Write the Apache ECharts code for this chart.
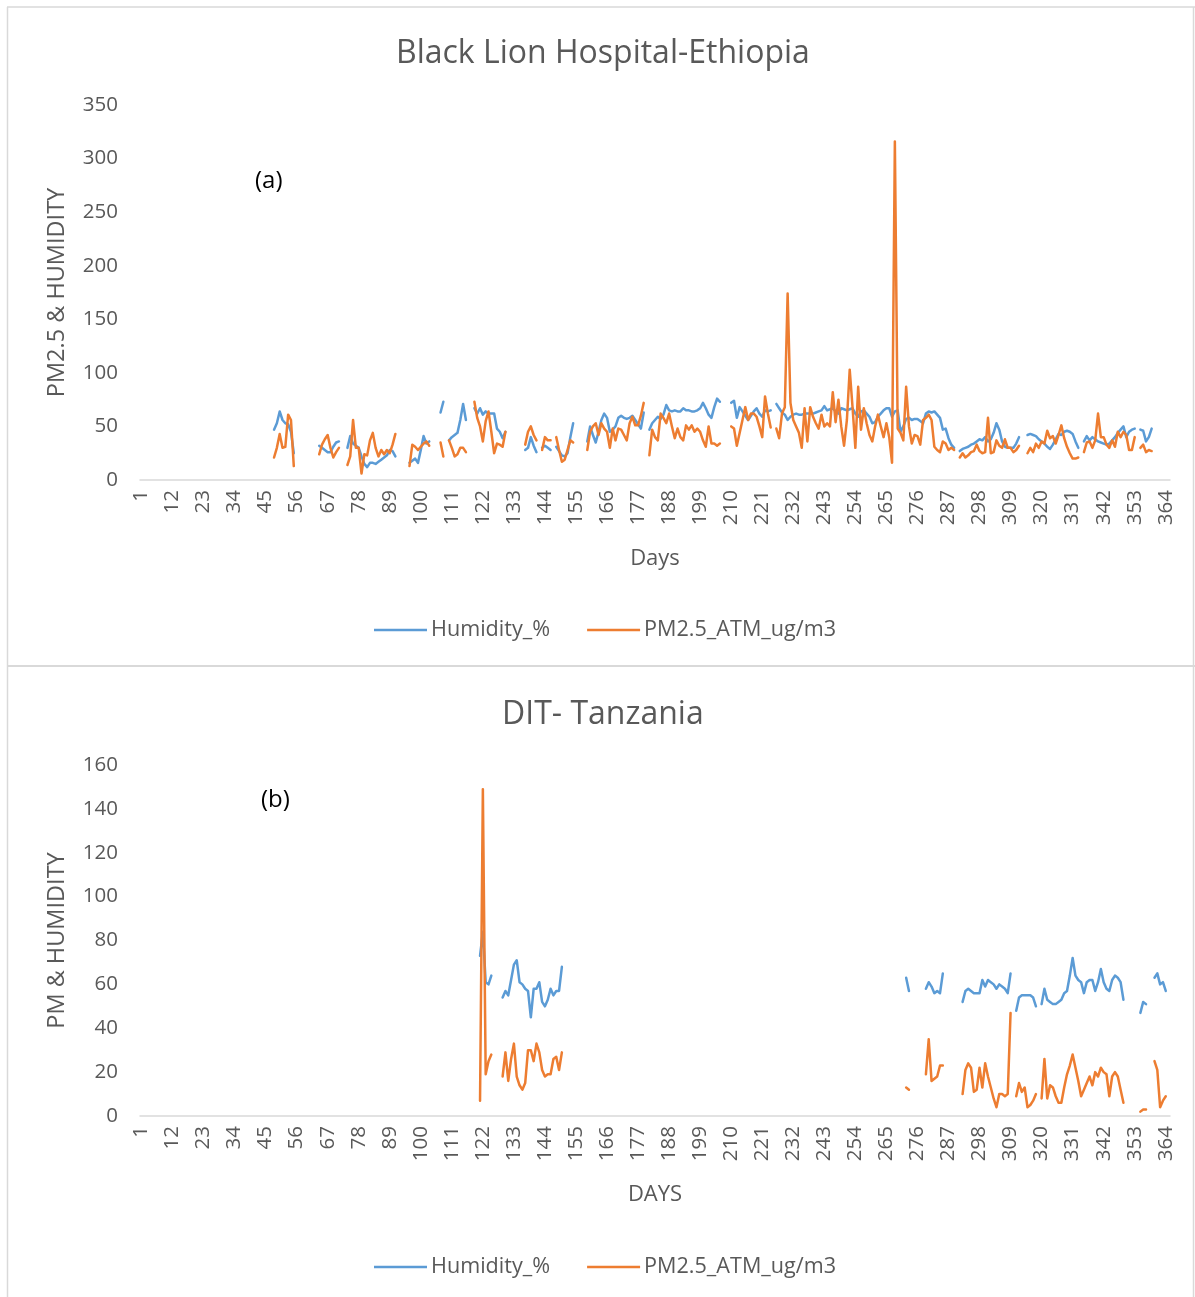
<!DOCTYPE html>
<html>
<head>
<meta charset="utf-8">
<script src="https://cdn.jsdelivr.net/npm/echarts@6/dist/echarts.min.js"></script>
<style>
html,body{margin:0;padding:0;background:#fff;}
#chart{width:1195px;height:1297px;}
</style>
</head>
<body>
<div id="chart"></div>
<script>
// Day categories 1..365 (x-axis tick labels shown every 11th day)
const dayCount = 365;
const days = Array.from({length: dayCount}, (_, i) => String(i + 1));

const seriesNames = ['Humidity_%', 'PM2.5_ATM_ug/m3'];
const titleA = 'Black Lion Hospital-Ethiopia';
const titleB = 'DIT- Tanzania';

// Each entry: [first day, [values for consecutive days]]; days not listed are missing
const ethHumidity = [
  [48, [47,53,64,56,53,52,45,25]],
  [64, [32,30,28,26,26,31,35,36]],
  [74, [30,41,34,32,30,22,15,12,16,16,15,17,19,21,23,28,27,22]],
  [96, [16,18,20,16,28,41,34,36]],
  [107, [63,73]],
  [110, [37,40,42,44,56,71,56]],
  [119, [67,62,67,61,64,62,62,62,48,45,39,45]],
  [137, [28,30,40,32,26]],
  [143, [30,32,30,28]],
  [148, [31,27,23,22,25,40,53]],
  [159, [36,50,42,35,45,56,62,58,45,47,50,58,60,58,57,58,60,56,52,48,63]],
  [181, [47,53,56,59,57,61,70,65,64,65,64,64,67,65,65,64,64,65,67,72,67,61,58,68,76,73]],
  [210, [72,74,58,68,64,60,56,60,64,67,62,59,65,64,65]],
  [226, [71,67,63,61,56,59,61,62,61,61,62,62,62,62,63,64,65,69,65,66,67,64,62,67,66,65,66,67,62,59,64,65,62,59,53,54,59,62,65,67,67,59,64,65,45,50,57,58,56,57,57,55,53,62,64,63,64,61,58,47,48,39,33,30]],
  [291, [27,29,30,31,33,34,36,38,37,40,36,38,44,53,47,36,31,30,30,30,34,40]],
  [315, [42,43,42,41,38,36,34,31,29,33,38,43,42,45,46,45,43,36,30]],
  [335, [36,41,37,40,38,36,35,34,33,34,37,40,44,47,50,40,45,47,48]],
  [355, [47,46,36,40,48]]
];
const ethPM = [
  [48, [21,30,43,30,31,61,56,13]],
  [64, [24,33,38,42,30,21,26,30]],
  [74, [14,22,56,30,30,6,24,23,37,44,30,22,28,24,28,25,33,43]],
  [96, [13,33,31,28,31,34,36,32]],
  [107, [35,22]],
  [110, [37,30,22,24,30,30,26]],
  [119, [73,58,50,36,55,64,45,25,34,33,31,45]],
  [137, [33,45,50,42,37]],
  [143, [28,40,37,37]],
  [148, [40,28,17,19,28,37,35]],
  [159, [28,45,50,53,42,53,48,45,30,48,37,48,47,42,37,53,59,51,51,60,72]],
  [181, [23,47,40,37,62,58,53,62,50,39,48,40,37,51,47,51,45,48,45,37,31,50,34,34,32,34]],
  [210, [50,48,32,44,56,68,56,62,62,59,50,40,78,62,49]],
  [226, [48,39,62,68,174,72,56,50,44,30,67,36,68,59,53,48,61,50,53,50,82,54,75,50,32,56,103,68,30,87,47,67,53,42,36,50,61,50,40,53,40,16,316,48,44,37,87,50,34,42,41,33,56,58,61,56,31,28,26,36,34,28,30,28]],
  [291, [21,25,21,23,26,27,33,27,25,26,58,25,26,37,32,30,38,30,30,26,28,32]],
  [315, [25,30,26,34,30,36,34,46,39,41,34,42,51,39,31,25,20,20,21]],
  [335, [26,35,36,30,37,62,40,40,33,30,37,31,45,40,45,42,28,28,40]],
  [355, [30,33,26,28,27]]
];
const tzHumidity = [
  [121, [73,84,61,60,64]],
  [129, [54,57,55,62,69,71,61,60,58,57,45,58,58,61,52,50,53,58,55,57,57,68]],
  [272, [63,57]],
  [279, [58,61,59,56,57,56,65]],
  [292, [52,57,58,57,56,56,56,62,59,62,61,60,58,60,59,58,56,65]],
  [311, [48,54,55,55,55,55,54,50]],
  [320, [51,58,53,52,51,51,52,53,56,57,64,72,64,62,61,56,61,62,62,57,61,67,61,58,57,62,64,63,61,53]],
  [355, [47,52,51]],
  [360, [63,65,60,61,57]]
];
const tzPM = [
  [121, [7,149,19,25,28]],
  [129, [18,29,16,26,33,18,14,12,15,30,30,25,33,29,21,18,19,19,26,27,21,29]],
  [272, [13,12]],
  [279, [19,35,16,17,18,23,23]],
  [292, [10,21,24,22,11,12,22,13,24,18,13,8,4,10,10,9,10,47]],
  [311, [9,15,11,13,4,5,7,10]],
  [320, [8,26,8,14,13,9,6,6,13,19,23,28,22,16,9,12,15,18,14,20,18,22,20,19,9,18,20,18,12,6]],
  [355, [2,3,3]],
  [360, [25,21,4,7,9]]
];

function expand(segs) {
  const arr = new Array(dayCount).fill(null);
  segs.forEach(([start, vals]) => vals.forEach((v, i) => { arr[start - 1 + i] = v; }));
  return arr;
}

const FONT = 'Open Sans';
const GRAY = '#595959';
const BLUE = '#5B9BD5';
const ORANGE = '#ED7D31';

function xAxisCfg(gridIndex, name) {
  return {
    type: 'category', gridIndex, data: days, boundaryGap: true,
    axisLine: {lineStyle: {color: '#d9d9d9', width: 1.5}},
    axisTick: {show: false},
    axisLabel: {interval: 10, rotate: 90, fontSize: 20.5, color: GRAY, margin: 10, fontFamily: FONT},
    name, nameLocation: 'middle', nameGap: 68,
    nameTextStyle: {fontSize: 22, color: GRAY, fontFamily: FONT}
  };
}
function yAxisCfg(gridIndex, max, interval, name) {
  return {
    type: 'value', gridIndex, min: 0, max, interval,
    splitLine: {show: false}, axisLine: {show: false}, axisTick: {show: false},
    axisLabel: {fontSize: 20.5, color: GRAY, margin: 22, fontFamily: FONT},
    name, nameLocation: 'middle', nameGap: 71,
    nameTextStyle: {fontSize: 23.5, color: GRAY, fontFamily: FONT}
  };
}
function lineSeries(name, data, color, idx) {
  return {
    name, type: 'line', data, xAxisIndex: idx, yAxisIndex: idx,
    showSymbol: false, symbol: 'none', connectNulls: false,
    lineStyle: {color, width: 2.5, cap: 'round', join: 'round'},
    itemStyle: {color}
  };
}
function legendCfg(top) {
  return {
    data: seriesNames, top, left: 369, icon: 'rect',
    itemWidth: 53, itemHeight: 2.5, itemGap: 37,
    textStyle: {fontSize: 21.6, color: GRAY, fontFamily: FONT, padding: [0, 0, 0, -1]}
  };
}

const chart = echarts.init(document.getElementById('chart'), null, {renderer: 'canvas'});
chart.setOption({
  animation: false,
  textStyle: {fontFamily: FONT},
  title: [
    {text: titleA, left: 391, top: 33, textStyle: {fontSize: 32, fontWeight: 'normal', color: GRAY, fontFamily: FONT}},
    {text: titleB, left: 497, top: 694, textStyle: {fontSize: 32, fontWeight: 'normal', color: GRAY, fontFamily: FONT}}
  ],
  legend: [legendCfg(614), legendCfg(1251)],
  grid: [
    {left: 140, top: 105, width: 1030, height: 375},
    {left: 140, top: 765, width: 1030, height: 351}
  ],
  xAxis: [xAxisCfg(0, 'Days'), xAxisCfg(1, 'DAYS')],
  yAxis: [yAxisCfg(0, 350, 50, 'PM2.5 & HUMIDITY'), yAxisCfg(1, 160, 20, 'PM & HUMIDITY')],
  series: [
    lineSeries(seriesNames[0], expand(ethHumidity), BLUE, 0),
    lineSeries(seriesNames[1], expand(ethPM), ORANGE, 0),
    lineSeries(seriesNames[0], expand(tzHumidity), BLUE, 1),
    lineSeries(seriesNames[1], expand(tzPM), ORANGE, 1)
  ],
  graphic: [
    {type: 'line', shape: {x1: 7, y1: 7, x2: 1195, y2: 7}, style: {stroke: '#d9d9d9', lineWidth: 1.5}, silent: true},
    {type: 'line', shape: {x1: 7.5, y1: 7, x2: 7.5, y2: 1297}, style: {stroke: '#d9d9d9', lineWidth: 1.5}, silent: true},
    {type: 'line', shape: {x1: 1193.5, y1: 7, x2: 1193.5, y2: 1297}, style: {stroke: '#d9d9d9', lineWidth: 1.5}, silent: true},
    {type: 'line', shape: {x1: 7, y1: 666, x2: 1195, y2: 666}, style: {stroke: '#d9d9d9', lineWidth: 2}, silent: true},
    {type: 'text', left: 255, top: 169, style: {text: '(a)', fontSize: 24, fill: '#000', fontFamily: FONT}, silent: true},
    {type: 'text', left: 261, top: 788, style: {text: '(b)', fontSize: 24, fill: '#000', fontFamily: FONT}, silent: true}
  ]
});
</script>
</body>
</html>
